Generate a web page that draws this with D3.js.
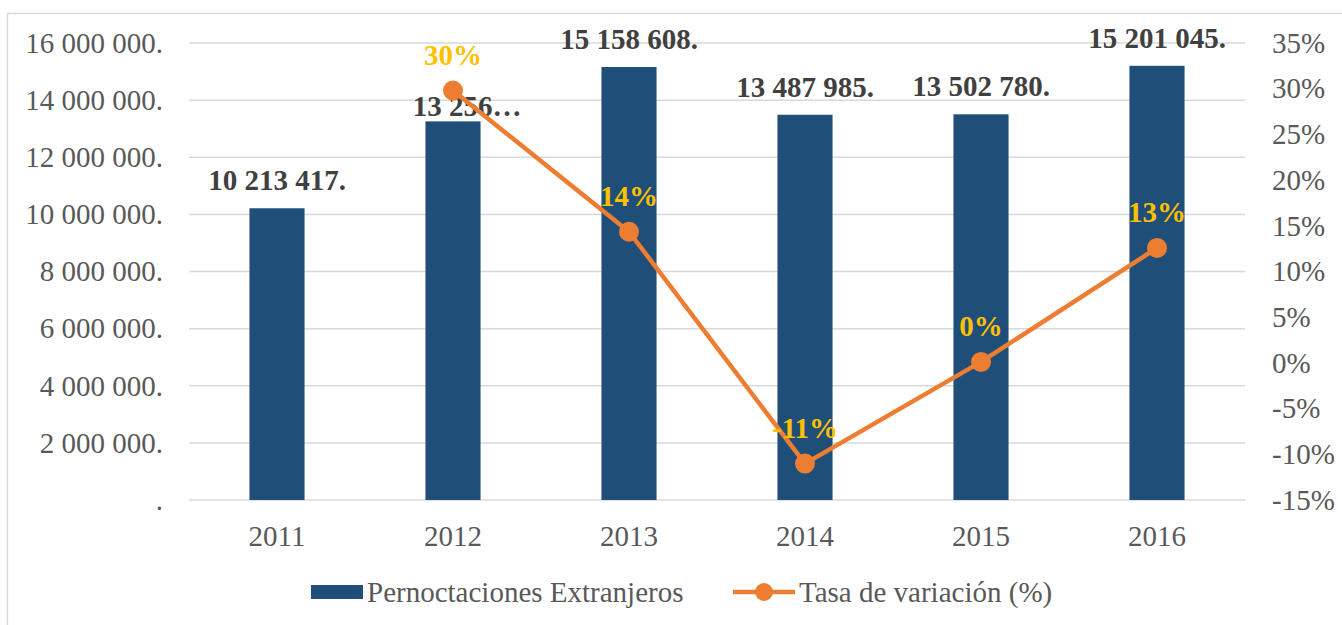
<!DOCTYPE html>
<html>
<head>
<meta charset="utf-8">
<script src="https://cdn.jsdelivr.net/npm/d3@7"></script>
<style>
  html, body { margin: 0; padding: 0; background: #fff; }
  svg text { font-family: "Liberation Serif", "Times New Roman", serif; }
</style>
</head>
<body>
<svg id="chart" width="1342" height="625"></svg>
<script>
// ---- data ----
const years = ["2011", "2012", "2013", "2014", "2015", "2016"];
const pernoctaciones = [10213417, 13256000, 15158608, 13487985, 13502780, 15201045];
const barLabels = ["10 213 417.", "13 256\u2026", "15 158 608.", "13 487 985.", "13 502 780.", "15 201 045."];
const rateYears = ["2012", "2013", "2014", "2015", "2016"];
const tasa = [29.8, 14.35, -11.02, 0.11, 12.58];
const tasaLabels = ["30%", "14%", "-11%", "0%", "13%"];
const leftTicks = [0, 2000000, 4000000, 6000000, 8000000, 10000000, 12000000, 14000000, 16000000];
const leftTickLabels = [".", "2 000 000.", "4 000 000.", "6 000 000.", "8 000 000.", "10 000 000.", "12 000 000.", "14 000 000.", "16 000 000."];
const rightTicks = [-15, -10, -5, 0, 5, 10, 15, 20, 25, 30, 35];
const rightTickLabels = ["-15%", "-10%", "-5%", "0%", "5%", "10%", "15%", "20%", "25%", "30%", "35%"];
const legendLabels = ["Pernoctaciones Extranjeros", "Tasa de variación (%)"];

// ---- layout ----
const svg = d3.select("#chart");
const plot = { left: 189, right: 1245, top: 43, bottom: 500 };
const barColor = "#1F4E79", lineColor = "#ED7D31", pctColor = "#FFC000";
const axisTextColor = "#595959", labelColor = "#404040", gridColor = "#D9D9D9";
const fs = 29;

// outer chart border
svg.append("rect")
  .attr("x", 7.5).attr("y", 13.5).attr("width", 1400).attr("height", 700)
  .attr("fill", "none").attr("stroke", gridColor).attr("stroke-width", 1.5);

const x = d3.scaleBand().domain(years).range([plot.left, plot.right]).paddingInner(0.687).paddingOuter(0.3435);
const y = d3.scaleLinear().domain([0, 16000000]).range([plot.bottom, plot.top]);
const y2 = d3.scaleLinear().domain([-15, 35]).range([plot.bottom, plot.top]);

// gridlines
svg.append("g").selectAll("line").data(leftTicks).join("line")
  .attr("x1", plot.left).attr("x2", plot.right)
  .attr("y1", d => y(d)).attr("y2", d => y(d))
  .attr("stroke", gridColor).attr("stroke-width", 1.5);

// left axis
const gL = svg.append("g").attr("transform", `translate(${plot.left},0)`)
  .call(d3.axisLeft(y).tickValues(leftTicks).tickFormat((d, i) => leftTickLabels[i]).tickSize(0).tickPadding(26));
gL.select(".domain").remove();
gL.selectAll("text").attr("fill", axisTextColor).style("font-size", fs + "px");

// right axis
const gR = svg.append("g").attr("transform", `translate(${plot.right},0)`)
  .call(d3.axisRight(y2).tickValues(rightTicks).tickFormat((d, i) => rightTickLabels[i]).tickSize(0).tickPadding(27));
gR.select(".domain").remove();
gR.selectAll("text").attr("fill", axisTextColor).style("font-size", fs + "px");

// bottom axis
const gB = svg.append("g").attr("transform", `translate(0,${plot.bottom})`)
  .call(d3.axisBottom(x).tickSize(0).tickPadding(25));
gB.select(".domain").remove();
gB.selectAll("text").attr("fill", axisTextColor).style("font-size", fs + "px");

// bars
svg.append("g").selectAll("rect").data(years).join("rect")
  .attr("x", d => x(d)).attr("width", x.bandwidth())
  .attr("y", (d, i) => y(pernoctaciones[i]))
  .attr("height", (d, i) => plot.bottom - y(pernoctaciones[i]))
  .attr("fill", barColor);

// bar labels
svg.append("g").selectAll("text").data(years).join("text")
  .attr("x", (d, i) => x(d) + x.bandwidth() / 2 + (barLabels[i].endsWith("\u2026") ? 14 : 0))
  .attr("y", (d, i) => y(pernoctaciones[i]) - (barLabels[i].endsWith("\u2026") ? 5 : 18))
  .attr("text-anchor", "middle")
  .attr("fill", labelColor).style("font-size", fs + "px").style("font-weight", "bold")
  .text((d, i) => barLabels[i]);

// line
const cx = d => x(d) + x.bandwidth() / 2;
const line = d3.line().x(d => cx(d[0])).y(d => y2(d[1]));
svg.append("path").datum(rateYears.map((d, i) => [d, tasa[i]]))
  .attr("d", line).attr("fill", "none").attr("stroke", lineColor)
  .attr("stroke-width", 4.5).attr("stroke-linejoin", "round");

svg.append("g").selectAll("circle").data(rateYears).join("circle")
  .attr("cx", d => cx(d)).attr("cy", (d, i) => y2(tasa[i])).attr("r", 10)
  .attr("fill", lineColor);

svg.append("g").selectAll("text").data(rateYears).join("text")
  .attr("x", d => cx(d)).attr("y", (d, i) => y2(tasa[i]) - 26)
  .attr("text-anchor", "middle")
  .attr("fill", pctColor).style("font-size", fs + "px").style("font-weight", "bold")
  .text((d, i) => tasaLabels[i]);

// legend
const lg = svg.append("g");
lg.append("rect").attr("x", 311).attr("y", 585).attr("width", 52).attr("height", 14).attr("fill", barColor);
lg.append("text").attr("x", 367).attr("y", 602).attr("fill", axisTextColor)
  .style("font-size", fs + "px").text(legendLabels[0]);
lg.append("line").attr("x1", 733).attr("x2", 795).attr("y1", 592).attr("y2", 592)
  .attr("stroke", lineColor).attr("stroke-width", 4.5);
lg.append("circle").attr("cx", 764).attr("cy", 592).attr("r", 9).attr("fill", lineColor);
lg.append("text").attr("x", 799).attr("y", 602).attr("fill", axisTextColor)
  .style("font-size", fs + "px").text(legendLabels[1]);
</script>
</body>
</html>
